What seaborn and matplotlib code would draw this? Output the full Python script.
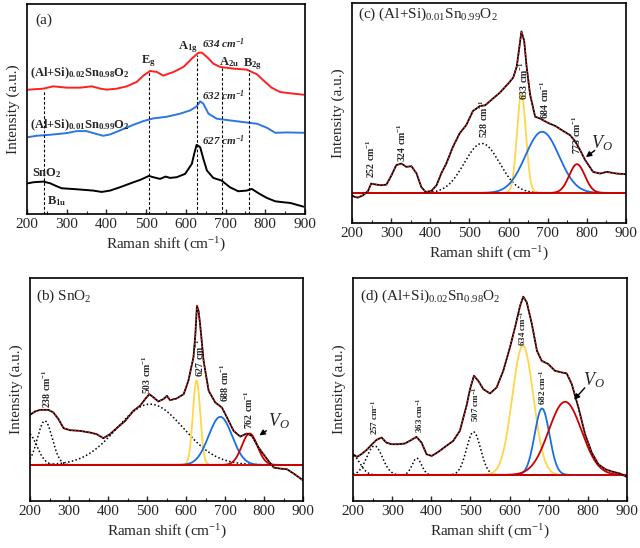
import matplotlib
matplotlib.use("Agg")
import matplotlib.pyplot as plt
import seaborn as sns
import numpy as np

# ---------------- panel (a): raw spectra (offset, a.u.) ----------------
a_sno2_x = [203, 216, 241, 258, 271, 287, 325, 367, 388, 409, 434, 468, 485, 507, 518, 535, 549, 560,
            577, 598, 615, 621, 627, 636, 644, 653, 669, 690, 711, 732, 753, 766, 783, 804, 825, 846,
            863, 896]
a_sno2_y = [92, 95, 97, 92, 85, 77, 74, 70, 66, 70, 80, 95, 102, 114, 110, 105, 112, 108,
            110, 120, 150, 180, 207, 200, 165, 130, 108, 100, 80, 68, 70, 75, 62, 48, 38, 35,
            33, 22]
a_01_x = [203, 224, 258, 283, 300, 325, 350, 367, 392, 409, 434, 468, 493, 518, 552, 585, 611, 627,
          636, 644, 657, 678, 711, 745, 779, 804, 825, 855, 896]
a_01_y = [230, 234, 237, 240, 242, 248, 248, 242, 234, 238, 250, 267, 278, 286, 291, 300, 310, 322,
          337, 330, 300, 285, 280, 275, 270, 258, 243, 244, 243]
a_02_x = [203, 241, 266, 300, 334, 363, 385, 401, 426, 451, 476, 493, 510, 527, 543, 569, 594, 615,
          631, 640, 653, 669, 686, 720, 753, 779, 795, 816, 837, 871, 896]
a_02_y = [372, 375, 382, 378, 378, 382, 375, 372, 375, 382, 395, 414, 428, 425, 414, 425, 440, 465,
          482, 483, 470, 450, 440, 435, 432, 418, 400, 378, 365, 360, 357]
a_modes = ["B$_{1u}$", "E$_g$", "A$_{1g}$", "A$_{2u}$", "B$_{2g}$"]
a_mode_pos = [244, 508, 627, 690, 758]
a_mode_top = [370, 425, 475, 440, 430]

# ---------------- panel (b): SnO2 ----------------
b_x = [200, 213, 226, 247, 260, 273, 286, 303, 328, 354, 371, 388, 405, 422, 444, 465, 482, 495,
       506, 517, 529, 542, 551, 559, 576, 594, 606, 619, 624, 628, 632, 636, 641, 645, 658, 675,
       692, 705, 722, 739, 756, 769, 786, 808, 825, 842, 859, 876, 900]
b_y = [258, 268, 273, 273, 265, 245, 218, 212, 210, 205, 200, 188, 200, 218, 240, 270, 285, 305,
       320, 310, 298, 305, 315, 302, 307, 320, 360, 430, 500, 585, 570, 530, 470, 420, 330, 295,
       280, 250, 210, 193, 202, 195, 160, 125, 100, 97, 95, 82, 62]
b_base = 108
b_peak_c = [195, 238, 508, 627, 688, 763]
b_peak_h = [95, 132, 182, 253, 144, 94]
b_peak_w = [22, 19, 85, 9.5, 30, 20]
b_peak_col = ["k", "k", "k", "#ffd54a", "#1a6ee0", "#cc0000"]
b_labels = ["238", "503", "627", "688", "762"]
b_lab_xy = [(243, 335), (500, 378), (635, 428), (700, 355), (760, 272)]

# ---------------- panel (c): (Al+Si)0.01Sn0.99O2 ----------------
c_x = [200, 207, 215, 228, 241, 249, 262, 275, 288, 301, 313, 326, 339, 352, 365, 377, 388, 403,
       416, 428, 441, 458, 475, 492, 509, 527, 540, 556, 578, 600, 612, 621, 627, 633, 640, 646,
       655, 668, 680, 700, 720, 740, 757, 770, 783, 795, 816, 834, 851, 876, 900]
c_y = [83, 78, 76, 83, 96, 118, 115, 113, 115, 143, 173, 178, 168, 170, 148, 108, 93, 96,
       113, 148, 178, 228, 268, 293, 335, 350, 352, 368, 390, 418, 435, 468, 520, 573, 545, 470,
       385, 318, 313, 300, 290, 275, 263, 245, 218, 190, 153, 148, 153, 148, 146]
c_base = 90
c_peak_c = [532, 633, 686, 775]
c_peak_h = [148, 295, 183, 86]
c_peak_w = [45, 11.5, 43, 20]
c_peak_col = ["k", "#ffd54a", "#1a6ee0", "#cc0000"]
c_labels = ["252", "324", "528", "633", "684", "773"]
c_lab_xy = [(247, 193), (328, 240), (537, 313), (638, 425), (693, 370), (774, 263)]

# ---------------- panel (d): (Al+Si)0.02Sn0.98O2 ----------------
d_x = [200, 210, 221, 234, 247, 260, 273, 285, 298, 315, 332, 345, 362, 375, 388, 401, 418, 435,
       456, 473, 490, 499, 509, 520, 533, 550, 567, 584, 601, 614, 627, 635, 644, 657, 670, 682,
       699, 716, 733, 746, 759, 776, 793, 810, 827, 845, 862, 883, 900]
d_y = [140, 132, 140, 152, 168, 183, 190, 175, 170, 170, 172, 180, 192, 175, 140, 135, 147, 162,
       180, 210, 285, 335, 375, 360, 335, 322, 340, 390, 460, 520, 585, 612, 595, 530, 450, 420,
       410, 390, 385, 382, 350, 280, 200, 145, 110, 95, 88, 82, 72]
d_base = 78
d_peak_c = [200, 255, 363, 508, 634, 683, 742]
d_peak_h = [57, 87, 50, 129, 387, 199, 219]
d_peak_w = [18, 20, 12, 18, 27, 19, 42]
d_peak_col = ["k", "k", "k", "k", "#ffd54a", "#1a6ee0", "#cc0000"]
d_labels = ["257", "363", "507", "634", "682"]
d_lab_xy = [(255, 250), (369, 258), (512, 290), (634, 518), (685, 340)]

sns.set_style("ticks")
plt.rcParams["font.family"] = ["Liberation Serif", "DejaVu Serif"]
plt.rcParams["mathtext.fontset"] = "custom"
plt.rcParams["mathtext.rm"] = "Liberation Serif"
plt.rcParams["mathtext.it"] = "Liberation Serif:italic"
plt.rcParams["mathtext.bf"] = "Liberation Serif:bold"
plt.rcParams["mathtext.default"] = "regular"

fig = plt.figure(figsize=(6.4, 5.48), dpi=100)
ax_a = fig.add_axes([0.0422, 0.6095, 0.4344, 0.383])
ax_c = fig.add_axes([0.55, 0.593, 0.428, 0.4015])
ax_b = fig.add_axes([0.0469, 0.0858, 0.4266, 0.407])
ax_d = fig.add_axes([0.5516, 0.0858, 0.428, 0.407])


def style_axis(ax, top):
    ax.set_xlim(200, 900)
    ax.set_ylim(0, top)
    ax.set_yticks([])
    ax.set_xticks(range(200, 901, 100))
    ax.set_xticks(range(250, 900, 100), minor=True)
    ax.tick_params(axis="x", which="major", direction="in", length=3.5, width=1, labelsize=11, pad=3)
    ax.tick_params(axis="x", which="minor", direction="in", length=2, width=0.8)
    for s in ax.spines.values():
        s.set_linewidth(1.2)
        s.set_color("black")
    ax.set_xlabel("Raman shift (cm$^{-1}$)", fontsize=11, labelpad=3)
    ax.set_ylabel("Intensity (a.u.)", fontsize=11, labelpad=5)


# ---- (a)
for xs, ys, col in [(a_sno2_x, a_sno2_y, "black"), (a_01_x, a_01_y, "#2a78e0"), (a_02_x, a_02_y, "#ff2020")]:
    sns.lineplot(x=xs, y=ys, ax=ax_a, color=col, lw=1.4, estimator=None, sort=False)
ax_a.vlines(a_mode_pos, 0, a_mode_top, colors="black", linestyles=(0, (2.5, 1.8)), lw=0.8)
style_axis(ax_a, 628)
ax_a.text(220, 580, "(a)", fontsize=11, va="center")
ax_a.text(207, 422, "(Al+Si)$_{0.02}$Sn$_{0.98}$O$_2$", fontsize=9, fontweight="bold", va="center")
ax_a.text(207, 265, "(Al+Si)$_{0.01}$Sn$_{0.99}$O$_2$", fontsize=9, fontweight="bold", va="center")
ax_a.text(213, 122, "SnO$_2$", fontsize=9, fontweight="bold", va="center")
ax_a.text(251, 40, a_modes[0], fontsize=9, fontweight="bold", va="center")
ax_a.text(505, 458, a_modes[1], fontsize=9, fontweight="bold", ha="center", va="center")
ax_a.text(606, 500, a_modes[2], fontsize=9, fontweight="bold", ha="center", va="center")
ax_a.text(709, 455, a_modes[3], fontsize=9, fontweight="bold", ha="center", va="center")
ax_a.text(768, 448, a_modes[4], fontsize=9, fontweight="bold", ha="center", va="center")
for lab, yy in [("634", 510), ("632", 355), ("627", 220)]:
    ax_a.text(641, yy, lab + " cm$^{-1}$", fontsize=8, fontweight="bold", fontstyle="italic", va="center")


def fit_panel(ax, xs, ys, base, cs, hs, ws, cols):
    grid = np.arange(200, 901, 1.0)
    for c, h, w, col in zip(cs, hs, ws, cols):
        comp = base + h * np.exp(-(grid - c) ** 2 / (2 * w ** 2))
        if col == "k":
            sns.lineplot(x=grid, y=comp, ax=ax, color="black", lw=1.1, linestyle=(0, (1, 1.5)),
                         estimator=None, sort=False)
        else:
            sns.lineplot(x=grid, y=comp, ax=ax, color=col, lw=1.3, estimator=None, sort=False)
    ax.axhline(base, color="#cc0000", lw=1.3)
    sns.lineplot(x=xs, y=ys, ax=ax, color="black", lw=1.3, estimator=None, sort=False)
    sns.lineplot(x=xs, y=ys, ax=ax, color="#ff2020", lw=1.0, linestyle=(0, (1, 1.5)),
                 estimator=None, sort=False)


def peak_labels(ax, labels, xy, size=7):
    for lab, (x, y) in zip(labels, xy):
        ax.text(x, y, lab + " cm$^{-1}$", rotation=90, fontsize=size, fontweight="bold",
                ha="center", va="center")


def vo_mark(ax, txt_xy, tail, head):
    ax.text(txt_xy[0], txt_xy[1], "$V_O$", fontsize=13, fontstyle="italic", ha="center", va="center")
    ax.annotate("", xy=head, xytext=tail,
                arrowprops=dict(arrowstyle="-|>", color="black", lw=1, mutation_scale=8))


# ---- (b)
fit_panel(ax_b, b_x, b_y, b_base, b_peak_c, b_peak_h, b_peak_w, b_peak_col)
style_axis(ax_b, 668)
ax_b.text(215, 612, "(b) SnO$_2$", fontsize=11, va="center")
peak_labels(ax_b, b_labels, b_lab_xy)
vo_mark(ax_b, (838, 240), (812, 215), (782, 192))

# ---- (c)
fit_panel(ax_c, c_x, c_y, c_base, c_peak_c, c_peak_h, c_peak_w, c_peak_col)
style_axis(ax_c, 658)
ax_c.text(215, 623, "(c) (Al+Si)$_{0.01}$Sn$_{0.99}$O$_2$", fontsize=11, va="center")
peak_labels(ax_c, c_labels, c_lab_xy)
vo_mark(ax_c, (840, 240), (826, 222), (792, 192))

# ---- (d)
fit_panel(ax_d, d_x, d_y, d_base, d_peak_c, d_peak_h, d_peak_w, d_peak_col)
style_axis(ax_d, 668)
ax_d.text(217, 612, "(d) (Al+Si)$_{0.02}$Sn$_{0.98}$O$_2$", fontsize=11, va="center")
peak_labels(ax_d, d_labels, d_lab_xy, size=6.5)
vo_mark(ax_d, (817, 362), (797, 345), (760, 297))

fig.savefig("out.png", dpi=100, facecolor="white")
